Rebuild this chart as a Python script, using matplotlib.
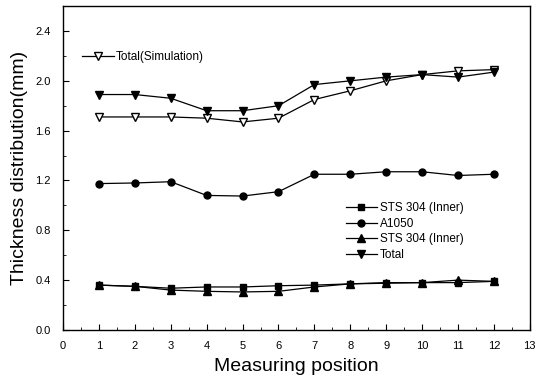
import matplotlib
matplotlib.use("Agg")
import matplotlib.pyplot as plt
from matplotlib.ticker import MultipleLocator

positions = [1, 2, 3, 4, 5, 6, 7, 8, 9, 10, 11, 12]
total_sim = [1.71, 1.71, 1.71, 1.70, 1.67, 1.70, 1.85, 1.92, 2.00, 2.05, 2.08, 2.09]
total = [1.89, 1.89, 1.86, 1.76, 1.76, 1.80, 1.97, 2.00, 2.03, 2.05, 2.03, 2.07]
a1050 = [1.175, 1.18, 1.19, 1.08, 1.075, 1.11, 1.25, 1.25, 1.27, 1.27, 1.24, 1.25]
sts_sq = [0.36, 0.35, 0.335, 0.345, 0.345, 0.355, 0.36, 0.37, 0.375, 0.38, 0.38, 0.39]
sts_tri = [0.36, 0.35, 0.32, 0.31, 0.305, 0.31, 0.345, 0.37, 0.38, 0.38, 0.40, 0.39]

plt.rcParams['font.family'] = ['Liberation Sans', 'DejaVu Sans']

fig = plt.figure(figsize=(5.39, 3.81), dpi=100)
ax = fig.add_axes([0.117, 0.134, 0.866, 0.850])

lw = 0.9
ms = 6
l_sim, = ax.plot(positions, total_sim, color='black', lw=lw, marker='v', ms=ms,
                 mfc='white', mec='black', mew=1.0, label='Total(Simulation)')
l_sq, = ax.plot(positions, sts_sq, color='black', lw=lw, marker='s', ms=ms - 1,
                label='STS 304 (Inner)')
l_al, = ax.plot(positions, a1050, color='black', lw=lw, marker='o', ms=ms - 1,
                label='A1050')
l_tri, = ax.plot(positions, sts_tri, color='black', lw=lw, marker='^', ms=ms,
                 label='STS 304 (Inner)')
l_tot, = ax.plot(positions, total, color='black', lw=lw, marker='v', ms=ms,
                 label='Total')

ax.set_xlim(0, 13)
ax.set_ylim(0, 2.6)
ax.xaxis.set_major_locator(MultipleLocator(1))
ax.xaxis.set_minor_locator(MultipleLocator(0.5))
ax.yaxis.set_major_locator(MultipleLocator(0.4))
ax.yaxis.set_minor_locator(MultipleLocator(0.2))
ax.tick_params(which='both', direction='in', top=False, right=False)
ax.tick_params(which='major', length=4, labelsize=8)
ax.tick_params(which='minor', length=2)
ax.tick_params(axis='y', which='major', pad=9)
ax.tick_params(axis='x', which='major', pad=8)
ax.set_yticks([0.0, 0.4, 0.8, 1.2, 1.6, 2.0, 2.4])
ax.set_yticklabels(['0.0', '0.4', '0.8', '1.2', '1.6', '2.0', '2.4'])
for s in ax.spines.values():
    s.set_linewidth(1.0)

ax.set_xlabel('Measuring position', fontsize=14, labelpad=5)
ax.set_ylabel('Thickness distribution(mm)', fontsize=14, labelpad=5)

leg1 = ax.legend(handles=[l_sim], loc='center left', bbox_to_anchor=(0.03, 0.843),
                 frameon=False, fontsize=8.5, handlelength=2.7, handletextpad=0.2,
                 borderaxespad=0)
ax.add_artist(leg1)
ax.legend(handles=[l_sq, l_al, l_tri, l_tot], loc='upper left',
          bbox_to_anchor=(0.595, 0.41), frameon=False, fontsize=8.5,
          handlelength=2.7, handletextpad=0.2, labelspacing=0.32, borderaxespad=0)

fig.savefig('out.png', dpi=100)
